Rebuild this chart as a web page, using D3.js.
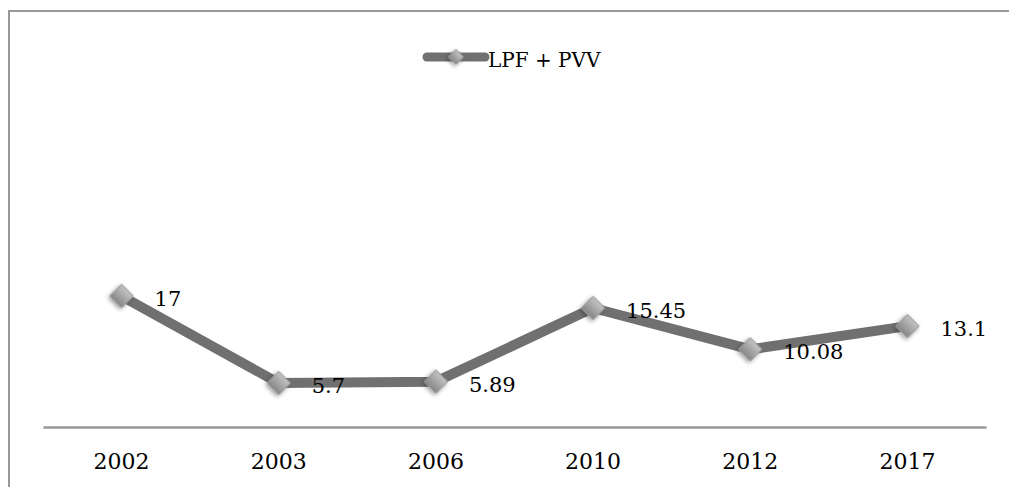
<!DOCTYPE html>
<html>
<head>
<meta charset="utf-8">
<script src="https://cdn.jsdelivr.net/npm/d3@7"></script>
<style>
  html, body { margin: 0; background: #fff; overflow: hidden; }
  svg { display: block; }
  svg text { font-family: "DejaVu Serif", serif; fill: #000; }
</style>
</head>
<body>
<div id="chart"></div>
<script>
// LPF + PVV line chart

const years = ["2002", "2003", "2006", "2010", "2012", "2017"];
const values = [17, 5.7, 5.89, 15.45, 10.08, 13.1];
const seriesName = "LPF + PVV";

const W = 1009, H = 487;
const margin = {left: 43, right: 23, top: 273, bottom: 60};

const svg = d3.select("#chart").append("svg")
  .attr("width", W)
  .attr("height", H);

// marker gradient + shadow
const defs = svg.append("defs");
const grad = defs.append("linearGradient")
  .attr("id", "mk").attr("x1", 0).attr("y1", 0).attr("x2", 0).attr("y2", 1);
grad.append("stop").attr("offset", "0%").attr("stop-color", "#c4c4c4");
grad.append("stop").attr("offset", "100%").attr("stop-color", "#868686");
const f = defs.append("filter").attr("id", "sh")
  .attr("x", "-50%").attr("y", "-50%").attr("width", "200%").attr("height", "200%");
f.append("feDropShadow").attr("dx", 0).attr("dy", 2).attr("stdDeviation", 2)
  .attr("flood-color", "#000").attr("flood-opacity", 0.4);

// outer frame: only top and left edges are in view
svg.append("path")
  .attr("d", `M9,${H}V11H${W}`)
  .attr("fill", "none")
  .attr("stroke", "#999").attr("stroke-width", 2);

const x = d3.scaleBand()
  .domain(years)
  .range([margin.left, W - margin.right]);

const y = d3.scaleLinear()
  .domain([0, 20])
  .range([H - margin.bottom, margin.top]);

const cx = d => x(d) + x.bandwidth() / 2;

// x axis
const xAxis = svg.append("g")
  .attr("transform", `translate(0,${y(0)})`)
  .call(d3.axisBottom(x).tickSize(0).tickPadding(26));
xAxis.select(".domain").attr("stroke", "#999").attr("stroke-width", 2.5);
xAxis.selectAll("text")
  .attr("font-size", 22)
  .attr("font-family", "DejaVu Serif")
  .attr("fill", "#000");

const data = years.map((yr, i) => ({yr, v: values[i]}));

const line = d3.line()
  .x(d => cx(d.yr))
  .y(d => y(d.v));

svg.append("path")
  .datum(data)
  .attr("d", line)
  .attr("fill", "none")
  .attr("stroke", "#707070")
  .attr("stroke-width", 10)
  .attr("stroke-linejoin", "round");

const diamond = d3.symbol().type(d3.symbolSquare).size(270);

svg.selectAll(".mk")
  .data(data)
  .enter().append("path")
  .attr("class", "mk")
  .attr("d", diamond)
  .attr("transform", d => `translate(${cx(d.yr)},${y(d.v)}) rotate(45)`)
  .attr("fill", "url(#mk)")
  .attr("stroke", "#9a9a9a")
  .attr("stroke-width", 1)
  .attr("filter", "url(#sh)");

// value labels
svg.selectAll(".lbl")
  .data(data)
  .enter().append("text")
  .attr("class", "lbl")
  .attr("x", d => cx(d.yr) + 33)
  .attr("y", d => y(d.v) + 10)
  .attr("font-size", 21)
  .text(d => d.v);

// legend
const lg = svg.append("g").attr("transform", "translate(427,57)");
lg.append("line")
  .attr("x1", 0).attr("x2", 58)
  .attr("stroke", "#707070").attr("stroke-width", 9)
  .attr("stroke-linecap", "round");
lg.append("path")
  .attr("d", d3.symbol().type(d3.symbolSquare).size(110))
  .attr("transform", "translate(29,0) rotate(45)")
  .attr("fill", "url(#mk)")
  .attr("stroke", "#9a9a9a")
  .attr("filter", "url(#sh)");
lg.append("text")
  .attr("x", 61).attr("y", 10)
  .attr("font-size", 20)
  .text(seriesName);
</script>
</body>
</html>
